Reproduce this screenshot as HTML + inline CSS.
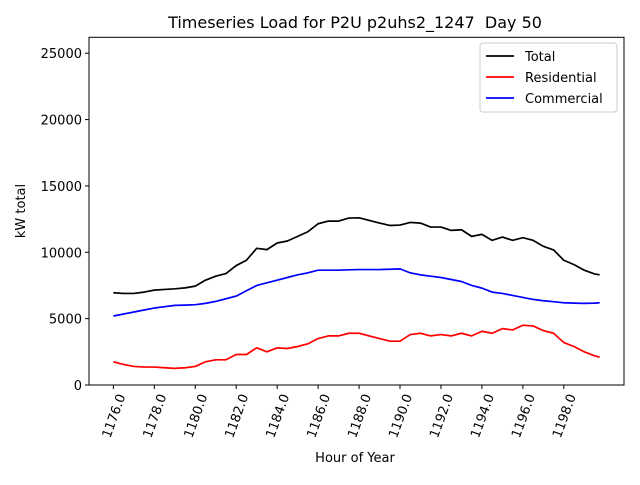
<!DOCTYPE html>
<html><head><meta charset="utf-8"><style>
body{margin:0;background:#fff}
svg text{font-family:"DejaVu Sans","Liberation Sans",sans-serif;fill:#000}
</style></head><body>
<svg id="chart" width="640" height="480" xmlns="http://www.w3.org/2000/svg">
<rect width="640" height="480" fill="#fff"/>
<text x="355" y="28" font-size="16" text-anchor="middle">Timeseries Load for P2U p2uhs2_1247 &#160;Day 50</text>
<text x="355" y="462" font-size="13" text-anchor="middle">Hour of Year</text>
<text transform="translate(25,211) rotate(-90)" font-size="13" text-anchor="middle">kW total</text>
<g id="plot"></g>
</svg>
<script>
const hours=[1176,1176.5,1177,1177.5,1178,1178.5,1179,1179.5,1180,1180.5,1181,1181.5,1182,1182.5,1183,1183.5,1184,1184.5,1185,1185.5,1186,1186.5,1187,1187.5,1188,1188.5,1189,1189.5,1190,1190.5,1191,1191.5,1192,1192.5,1193,1193.5,1194,1194.5,1195,1195.5,1196,1196.5,1197,1197.5,1198,1198.5,1199,1199.5,1199.75];
const residential=[1750,1550,1400,1350,1350,1300,1250,1300,1400,1750,1900,1900,2300,2300,2800,2500,2800,2750,2900,3100,3500,3700,3700,3900,3900,3700,3500,3300,3300,3800,3900,3700,3800,3700,3900,3700,4050,3900,4250,4150,4500,4450,4100,3900,3200,2900,2500,2200,2100];
const commercial=[5200,5350,5500,5650,5800,5900,6000,6020,6050,6150,6300,6500,6700,7100,7500,7700,7900,8100,8300,8450,8650,8650,8650,8680,8700,8700,8700,8720,8750,8450,8300,8200,8100,7950,7800,7500,7300,7000,6900,6750,6600,6450,6350,6280,6200,6170,6150,6170,6200];
const total=[6950,6900,6900,7000,7150,7200,7250,7320,7450,7900,8200,8400,9000,9400,10300,10200,10700,10850,11200,11550,12150,12350,12350,12580,12600,12400,12200,12020,12050,12250,12200,11900,11900,11650,11700,11200,11350,10900,11150,10900,11100,10900,10450,10180,9400,9070,8650,8370,8300];
const xTicks=[1176,1178,1180,1182,1184,1186,1188,1190,1192,1194,1196,1198];
const xTickLabels=["1176.0","1178.0","1180.0","1182.0","1184.0","1186.0","1188.0","1190.0","1192.0","1194.0","1196.0","1198.0"];
const yTicks=[0,5000,10000,15000,20000,25000];
const yTickLabels=["0","5000","10000","15000","20000","25000"];

const L=89,R=624,T=37.3,B=385;
const xMin=1174.81,xMax=1200.94,yMin=0,yMax=26200;
const X=v=>L+(v-xMin)/(xMax-xMin)*(R-L);
const Y=v=>B-(v-yMin)/(yMax-yMin)*(B-T);
const NS="http://www.w3.org/2000/svg";
const g=document.getElementById('plot');
function mk(tag,attrs,parent){const e=document.createElementNS(NS,tag);for(const k in attrs)e.setAttribute(k,attrs[k]);(parent||g).appendChild(e);return e;}

function line(vals,color,name){
  const p=mk('polyline',{points:hours.map((h,i)=>X(h).toFixed(2)+','+Y(vals[i]).toFixed(2)).join(' '),fill:'none',stroke:color,'stroke-width':1.7,'stroke-linejoin':'round'});
  
  
}
line(total,'#000','total-line');
line(residential,'#f00','residential-line');
line(commercial,'#00f','commercial-line');

const fr=mk('rect',{x:L,y:T,width:R-L,height:B-T,fill:'none',stroke:'#000','stroke-width':1});



xTicks.forEach((t,i)=>{
  const x=X(t);
  const tk=mk('line',{x1:x,x2:x,y1:B,y2:B+4,stroke:'#000'});
  
  
  const tx=mk('text',{transform:`translate(${x+4},${B+8}) rotate(-70)`,'font-size':13,'text-anchor':'end','dominant-baseline':'hanging'});
  tx.textContent=xTickLabels[i];
  
  
});
yTicks.forEach((t,i)=>{
  const y=Y(t);
  const tk=mk('line',{x1:L-4,x2:L,y1:y,y2:y,stroke:'#000'});
  
  
  const tx=mk('text',{x:L-7,y:y+5,'font-size':13,'text-anchor':'end'});
  tx.textContent=yTickLabels[i];
  
  
});

const lg=mk('g',{});


mk('rect',{x:480,y:43,width:137,height:69,fill:'#fff',stroke:'#ccc',rx:3},lg);
[['Total','#000'],['Residential','#f00'],['Commercial','#00f']].forEach((e,i)=>{
  const y=56+i*21;
  const row=mk('g',{},lg);
  
  
  mk('line',{x1:486,x2:514,y1:y,y2:y,stroke:e[1],'stroke-width':1.8},row);
  const t=mk('text',{x:525,y:y+5,'font-size':13},row);
  t.textContent=e[0];
});
</script>
</body></html>
